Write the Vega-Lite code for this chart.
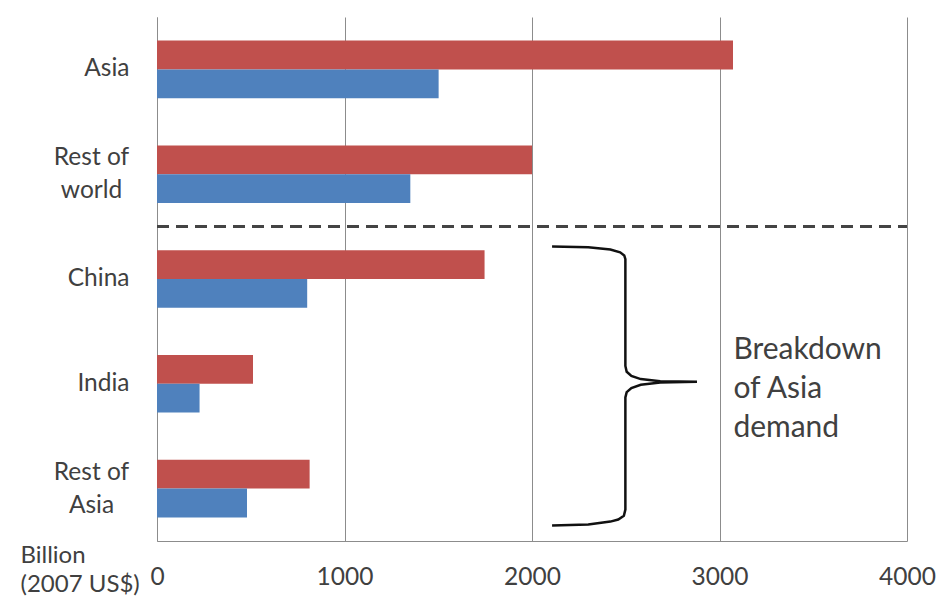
{
  "$schema": "https://vega.github.io/schema/vega-lite/v6.json",
  "width": 750,
  "height": 524,
  "autosize": "none",
  "padding": {"left": 157, "top": 17, "right": 31, "bottom": 58},
  "background": "white",
  "config": {
    "view": {"stroke": null},
    "font": "Lato",
    "axis": {"labelColor": "#404040", "titleColor": "#404040", "labelFont": "Lato", "titleFont": "Lato"}
  },
  "resolve": {"scale": {"y": "independent"}},
  "layer": [
    {
      "data": {
        "values": [
          {"region": "Asia", "series": "Series 1", "value": 3072},
          {"region": "Asia", "series": "Series 2", "value": 1502},
          {"region": "Rest of world", "series": "Series 1", "value": 2000},
          {"region": "Rest of world", "series": "Series 2", "value": 1351},
          {"region": "China", "series": "Series 1", "value": 1747},
          {"region": "China", "series": "Series 2", "value": 801},
          {"region": "India", "series": "Series 1", "value": 512},
          {"region": "India", "series": "Series 2", "value": 227},
          {"region": "Rest of Asia", "series": "Series 1", "value": 814},
          {"region": "Rest of Asia", "series": "Series 2", "value": 480}
        ]
      },
      "mark": {"type": "bar"},
      "encoding": {
        "y": {
          "field": "region",
          "type": "nominal",
          "sort": ["Asia", "Rest of world", "China", "India", "Rest of Asia"],
          "scale": {"paddingInner": 0.45, "paddingOuter": 0.225},
          "axis": {
            "title": null,
            "ticks": false,
            "tickSize": 0,
            "labelAlign": {"condition": {"test": "datum.value == 'Rest of world' || datum.value == 'Rest of Asia'", "value": "center"}, "value": "right"},
            "labelBaseline": "middle",
            "labelPadding": {"condition": {"test": "datum.value == 'Rest of world' || datum.value == 'Rest of Asia'", "value": 66}, "value": 28},
            "labelFontSize": 24.5,
            "labelLineHeight": 33,
            "labelOffset": {"condition": {"test": "datum.value == 'Rest of world' || datum.value == 'Rest of Asia'", "value": -16}, "value": 0},
            "labelExpr": "datum.label == 'Rest of world' ? ['Rest of', 'world'] : datum.label == 'Rest of Asia' ? ['Rest of', 'Asia'] : datum.label",
            "domainColor": "#8c8c8c",
            "domainWidth": 1,
            "grid": false
          }
        },
        "yOffset": {
          "field": "series",
          "type": "nominal",
          "sort": ["Series 1", "Series 2"],
          "scale": {"paddingInner": 0, "paddingOuter": 0}
        },
        "x": {
          "field": "value",
          "type": "quantitative",
          "scale": {"domain": [0, 4000], "nice": false},
          "axis": {
            "values": [0, 1000, 2000, 3000, 4000],
            "format": "d",
            "ticks": false,
            "tickSize": 0,
            "labelPadding": 24,
            "labelFontSize": 24.5,
            "labelFlush": false,
            "grid": true,
            "gridColor": "#8c8c8c",
            "gridWidth": 1,
            "domainColor": "#8c8c8c",
            "domainWidth": 1,
            "title": ["Billion", "(2007 US$)"],
            "titleFontSize": 24,
            "titleFontWeight": "normal",
            "titleAlign": "left",
            "titleAnchor": "start",
            "titleBaseline": "alphabetic",
            "titleLineHeight": 29,
            "titleX": -137,
            "titleY": 21
          }
        },
        "color": {
          "field": "series",
          "type": "nominal",
          "scale": {"domain": ["Series 1", "Series 2"], "range": ["#C0504D", "#4F81BD"]},
          "legend": null
        }
      }
    },
    {
      "layer": [
        {
          "data": {"values": [{"y": 2.0, "x1": 0, "x2": 4000}]},
          "mark": {"type": "rule", "stroke": "#444444", "strokeWidth": 3, "strokeDash": [12, 7]},
          "encoding": {
            "y": {"field": "y", "type": "quantitative", "scale": {"domain": [0, 5], "reverse": true, "nice": false, "zero": false}, "axis": null},
            "x": {"field": "x1", "type": "quantitative"},
            "x2": {"field": "x2"}
          }
        },
        {
          "data": {
            "values": [
              {"i": 1, "x": 2107, "y": 2.190},
              {"i": 2, "x": 2300, "y": 2.198},
              {"i": 3, "x": 2418, "y": 2.219},
              {"i": 4, "x": 2470, "y": 2.245},
              {"i": 5, "x": 2492, "y": 2.275},
              {"i": 6, "x": 2498, "y": 2.310},
              {"i": 7, "x": 2498, "y": 3.330},
              {"i": 8, "x": 2505, "y": 3.385},
              {"i": 9, "x": 2530, "y": 3.425},
              {"i": 10, "x": 2580, "y": 3.455},
              {"i": 11, "x": 2684, "y": 3.475},
              {"i": 12, "x": 2880, "y": 3.480},
              {"i": 13, "x": 2684, "y": 3.488},
              {"i": 14, "x": 2580, "y": 3.510},
              {"i": 15, "x": 2530, "y": 3.540},
              {"i": 16, "x": 2505, "y": 3.580},
              {"i": 17, "x": 2498, "y": 3.630},
              {"i": 18, "x": 2498, "y": 4.700},
              {"i": 19, "x": 2490, "y": 4.760},
              {"i": 20, "x": 2460, "y": 4.795},
              {"i": 21, "x": 2418, "y": 4.815},
              {"i": 22, "x": 2300, "y": 4.842},
              {"i": 23, "x": 2107, "y": 4.853}
            ]
          },
          "mark": {"type": "line", "stroke": "#111111", "strokeWidth": 2.5, "interpolate": "linear"},
          "encoding": {
            "x": {"field": "x", "type": "quantitative"},
            "y": {"field": "y", "type": "quantitative"},
            "order": {"field": "i", "type": "quantitative"}
          }
        },
        {
          "data": {"values": [{"x": 3074, "y": 3.181, "label": "Breakdown\nof Asia\ndemand"}]},
          "mark": {"type": "text", "align": "left", "baseline": "middle", "fontSize": 30, "lineHeight": 39, "lineBreak": "\n", "color": "#404040", "font": "Lato"},
          "encoding": {
            "x": {"field": "x", "type": "quantitative"},
            "y": {"field": "y", "type": "quantitative"},
            "text": {"field": "label"}
          }
        }
      ]
    }
  ]
}
